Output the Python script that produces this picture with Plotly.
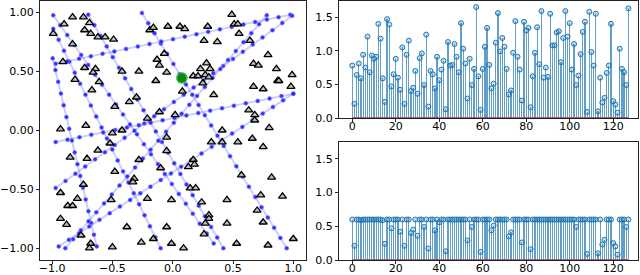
import numpy as np
import plotly.graph_objects as go

# ---------------- data ----------------
# left panel: straight sampling lines (endpoints + number of samples)
line_x0 = [-0.99, -0.995, -0.70, -0.255, -0.99, -0.97, -0.97, -0.89, -0.945, -0.97]
line_y0 = [0.86, 0.61, 0.98, 0.995, 0.975, 0.565, -0.49, -1.00, -0.985, -0.10]
line_x1 = [-0.10, -0.63, 0.42, 0.945, 0.34, 0.975, 0.99, 0.78, 1.00, 1.00]
line_y1 = [-1.00, -0.985, -1.00, -1.00, -0.96, 0.98, 0.97, 0.975, 0.31, 0.31]
line_npts = [21, 17, 23, 24, 24, 21, 25, 27, 24, 21]

# scattered triangles
tri_x = [-0.83, -0.74, -0.90, -0.69, -0.99, -0.73, -0.68, -0.62, -0.56, -0.49,
         -0.83, -0.91, -0.73, -0.64, -0.66, -0.81, -0.61, -0.67, -0.42, -0.28,
         -0.14, -0.13, -0.11, -0.05, -0.07, -0.19, -0.16, -0.04, -0.36, -0.30,
         -0.48, -0.21, -0.11, -0.93, -0.72, -0.42,
         0.49, 0.51, 0.54, 0.06, 0.10, 0.29, 0.55, 0.26, 0.37, 0.64,
         0.79, 0.67, 0.71, 0.86, 0.28, 0.23, 0.31, 0.17, 0.21, 0.27,
         0.25, 0.30, 0.99, 0.87, 0.88, 0.67, 0.75, 0.98, 0.08, 0.34,
         0.02, 0.63, 0.68, 0.68, 0.80, 0.41,
         -0.50, -0.52, -0.62, -0.85, -0.71, -0.05, -0.28, -0.48, -0.10, -0.32,
         -0.33, -0.74, -0.93, -0.79, -0.51, -0.87, -0.83, -0.21, -0.01, -0.93,
         -0.88, -0.38, -0.05, -0.76, -0.68, -0.69, -0.50, -0.26, -0.16, -0.01,
         0.13, 0.17, 0.18, 0.145, 0.19, 0.24, 0.30, 0.30, 0.27, 0.26,
         0.45, 0.45, 0.53, 0.32, 0.41, 0.54, 0.66, 0.75, 0.57, 0.82,
         0.73, 0.91, 0.70, 0.75, 0.79, 1.00, 0.09, -0.05]
tri_y = [0.96, 0.96, 0.90, 0.91, 0.82, 0.85, 0.82, 0.79, 0.79, 0.77,
         0.73, 0.58, 0.53, 0.52, 0.49, 0.43, 0.41, 0.34, 0.50, 0.50,
         0.42, 0.60, 0.55, 0.49, 0.65, 0.85, 0.87, 0.88, 0.24, 0.28,
         0.20, 0.10, 0.155, 0.01, 0.04, 0.00,
         0.98, 0.90, 0.90, 0.88, 0.86, 0.88, 0.82, 0.76, 0.75, 0.76,
         0.64, 0.565, 0.55, 0.52, 0.57, 0.52, 0.52, 0.46, 0.46, 0.47,
         0.40, 0.45, 0.47, 0.42, 0.42, 0.37, 0.35, 0.37, 0.33, 0.30,
         0.13, 0.17, 0.13, 0.085, 0.02, 0.00,
         -0.025, -0.11, -0.17, -0.23, -0.24, -0.175, -0.25, -0.35, -0.32, -0.41,
         -0.44, -0.46, -0.53, -0.58, -0.59, -0.64, -0.64, -0.58, -0.59, -0.75,
         -0.80, -0.82, -0.82, -0.89, -0.96, -1.00, -0.99, -0.95, -0.92, -0.96,
         -0.31, -0.25, -0.29, -0.49, -0.49, -0.61, -0.72, -0.75, -0.79, -0.88,
         -0.59, -0.79, -0.96, -0.10, -0.10, -0.10, -0.07, -0.14, -0.38, -0.40,
         -0.55, -0.56, -0.68, -0.78, -0.975, -0.92, -1.00, -0.06]

# highlighted point
green_x = [0.076]
green_y = [0.443]

left_xticks = [-1.0, -0.5, 0.0, 0.5, 1.0]
left_xticklabels = ["\u22121.0", "\u22120.5", "0.0", "0.5", "1.0"]
left_yticks = [-1.0, -0.5, 0.0, 0.5, 1.0]
left_yticklabels = ["\u22121.00", "\u22120.50", "0.00", "0.50", "1.00"]

# right panels: stem values (top) and clipped values (bottom)
stem_top = [0.78, 0.21, 0.64, 0.81, 0.59, 0.94, 0.75, 1.21, 0.68, 0.93,
            0.88, 0.91, 1.40, 1.18, 0.59, 0.24, 1.47, 1.39, 0.47, 0.65,
            0.88, 0.60, 0.42, 1.05, 0.21, 0.94, 1.15, 0.40, 0.45, 0.70,
            0.36, 0.89, 0.96, 0.49, 1.24, 0.17, 0.70, 0.65, 0.44, 0.91,
            0.56, 0.72, 0.85, 0.13, 1.13, 0.78, 0.79, 1.10, 0.91, 0.68,
            1.41, 1.03, 0.81, 0.29, 0.88, 0.49, 0.73, 1.65, 0.62, 0.12,
            0.73, 1.06, 1.34, 0.79, 0.44, 0.51, 1.12, 1.56, 0.99, 1.19,
            1.06, 0.73, 0.35, 0.41, 0.97, 1.44, 0.91, 0.72, 0.26, 1.43,
            1.30, 1.34, 0.16, 0.62, 0.97, 1.35, 0.80, 1.59, 0.60, 0.75,
            0.61, 1.55, 1.08, 1.08, 1.27, 1.29, 0.83, 1.19, 1.59, 1.21,
            1.41, 0.72, 1.10, 0.49, 0.63, 0.95, 1.28, 1.43, 0.09, 1.58,
            0.98, 0.78, 1.55, 0.10, 0.60, 0.23, 0.30, 0.67, 0.78, 1.40,
            0.25, 0.20, 0.08, 1.03, 0.73, 0.68, 0.49, 1.63]
clip_level = 0.6
stem_bottom = [min(v, clip_level) for v in stem_top]
stem_idx = list(range(len(stem_top)))

right_xticks = [0, 20, 40, 60, 80, 100, 120]
right_yticks = [0.0, 0.5, 1.0, 1.5]
right_yticklabels = ["0.0", "0.5", "1.0", "1.5"]

# ---------------- styles ----------------
FONT = "DejaVu Sans"
BLUE = "#1f77b4"

fig = go.Figure()

# sampling lines
for x0, y0, x1, y1, n in zip(line_x0, line_y0, line_x1, line_y1, line_npts):
    xs = np.linspace(x0, x1, n)
    ys = np.linspace(y0, y1, n)
    fig.add_trace(go.Scatter(
        x=xs, y=ys, mode="lines+markers", xaxis="x", yaxis="y",
        line=dict(color="rgba(90,90,255,0.3)", width=2),
        marker=dict(symbol="circle", size=4, color="rgba(30,30,255,0.9)",
                    line=dict(color="rgba(130,130,255,0.6)", width=1)),
        showlegend=False, hoverinfo="skip"))

# triangles
fig.add_trace(go.Scatter(
    x=tri_x, y=tri_y, mode="markers", xaxis="x", yaxis="y",
    marker=dict(symbol="triangle-up", size=7, color="rgba(185,185,185,0.9)",
                line=dict(color="black", width=1.3)),
    showlegend=False))

# green point
fig.add_trace(go.Scatter(
    x=green_x, y=green_y, mode="markers", xaxis="x", yaxis="y",
    marker=dict(symbol="circle", size=10, color="#0a8a0a",
                line=dict(color="rgba(60,170,60,0.7)", width=2)),
    showlegend=False))

# stem plots
for vals, xa, ya in [(stem_top, "x2", "y2"), (stem_bottom, "x3", "y3")]:
    fig.add_trace(go.Bar(
        x=stem_idx, y=vals, xaxis=xa, yaxis=ya, width=0.55,
        marker=dict(color="rgba(31,119,180,0.7)", line=dict(width=0)),
        showlegend=False))
    fig.add_trace(go.Scatter(
        x=[stem_idx[0], stem_idx[-1]], y=[0, 0], mode="lines", xaxis=xa, yaxis=ya,
        line=dict(color="#a03a3a", width=1.5), showlegend=False))
    fig.add_trace(go.Scatter(
        x=stem_idx, y=vals, mode="markers", xaxis=xa, yaxis=ya,
        marker=dict(symbol="circle", size=5, color="rgba(31,119,180,0.25)",
                    line=dict(color=BLUE, width=1)),
        showlegend=False))

W, H = 640, 275
def px_x(a, b):
    return [a / W, b / W]
def px_y(top, bottom):
    return [(H - bottom) / H, (H - top) / H]

axis_common = dict(showline=True, linecolor="#222", linewidth=1, mirror=True,
                   ticks="outside", ticklen=3, tickcolor="#222", tickwidth=1,
                   showgrid=False, zeroline=False, automargin=False,
                   tickfont=dict(family=FONT, size=11, color="black"))
xaxis_extra = dict(ticklabelstandoff=-5)

fig.update_layout(
    width=W, height=H, margin=dict(l=0, r=0, t=0, b=0, autoexpand=False),
    paper_bgcolor="white", plot_bgcolor="white", bargap=0,
    xaxis=dict(domain=px_x(40, 306), range=[-1.1, 1.105],
               tickvals=left_xticks, ticktext=left_xticklabels, anchor="y",
               **axis_common, **xaxis_extra),
    yaxis=dict(domain=px_y(1, 260), range=[-1.1, 1.096],
               tickvals=left_yticks, ticktext=left_yticklabels, anchor="x", **axis_common),
    xaxis2=dict(domain=px_x(339, 638), range=[-6.1, 131.4],
                tickvals=right_xticks, anchor="y2", **axis_common, **xaxis_extra),
    yaxis2=dict(domain=px_y(1, 118), range=[0, 1.74],
                tickvals=right_yticks, ticktext=right_yticklabels, anchor="x2", **axis_common),
    xaxis3=dict(domain=px_x(339, 638), range=[-6.1, 131.4],
                tickvals=right_xticks, anchor="y3", **axis_common, **xaxis_extra),
    yaxis3=dict(domain=px_y(142, 260), range=[0, 1.75],
                tickvals=right_yticks, ticktext=right_yticklabels, anchor="x3", **axis_common),
)

fig.write_html("out.html", config={"displayModeBar": False},
               post_script="document.body.style.margin='0px';document.body.style.overflow='hidden';")
